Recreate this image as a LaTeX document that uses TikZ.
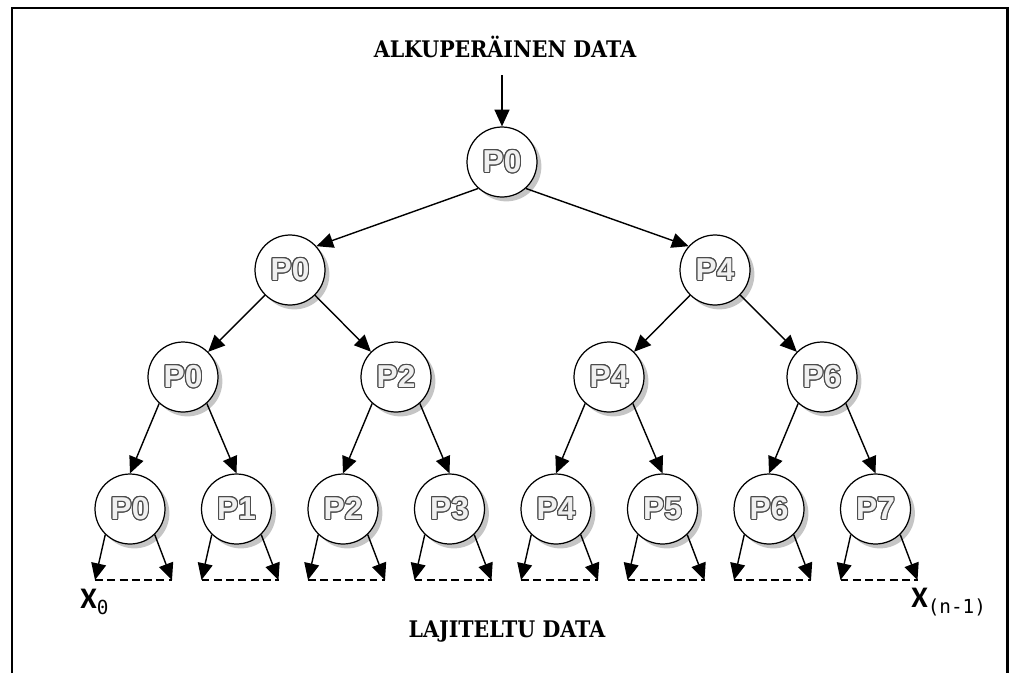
\documentclass[tikz,border=0pt]{standalone}
\usepackage{fontspec}
\usepackage{graphicx}
\usepackage{contour}
\usetikzlibrary{arrows.meta,shadows}
\newfontfamily\slabfont{DejaVu Serif}
\newfontfamily\procfont{Liberation Sans}
\newfontfamily\calfont{Carlito}
\newfontfamily\subfont{DejaVu Sans Mono}
\contourlength{0.6pt}
% hollow process label
\newcommand{\proclabel}[1]{{\color{black!6}\contour{black!70}{#1}}}
\begin{document}
\begin{tikzpicture}[x=0.02cm, y=-0.02cm, >={Triangle[length=9.5pt,width=8.5pt]},
  proc/.style={circle, draw, fill=white, line width=0.7pt, minimum size=1.4cm, inner sep=0pt,
    font=\procfont\bfseries\fontsize{18}{18}\selectfont,
    drop shadow={shadow xshift=2.5pt, shadow yshift=-2.5pt, fill=black!45}},
  edge/.style={->, line width=0.8pt},
  heading/.style={font=\slabfont\bfseries\fontsize{13}{13}\selectfont},
  idx/.style={anchor=west, inner sep=0pt, font=\calfont\bfseries\fontsize{17}{17}\selectfont},
  sortline/.style={line width=0.9pt, dash pattern=on 4.5pt off 2.5pt}]
  \useasboundingbox (0,0) rectangle (1013,673);
  % kehys
  \draw[line width=1.7pt] (12,673) -- (12,8) -- (1007,8) -- (1007,673);
  % otsikot
  \node[heading] (src) at (505,47) {\scalebox{0.9}[1]{ALKUPERÄINEN DATA}};
  \node[heading] (dst) at (507,632) {\scalebox{0.9}[1]{LAJITELTU DATA}};
  % juuri ja sisemmät tasot
  \node[proc] (r) at (502,162) {\proclabel{P0}};
  \node[proc] (a0) at (290,270) {\proclabel{P0}};
  \node[proc] (a4) at (715,270) {\proclabel{P4}};
  \foreach \i/\x in {0/183,2/396,4/609,6/822}
    \node[proc] (b\i) at (\x,377) {\proclabel{P\i}};
  % lehdet ja lajiteltu osa
  \foreach \i in {0,...,7}{
    \pgfmathsetmacro\xc{130+106.5*\i}
    \node[proc] (c\i) at (\xc,509) {\proclabel{P\i}};
    \coordinate (cl\i) at (\xc-35,580);
    \coordinate (cr\i) at (\xc+42,580);
    \draw[edge] (c\i.-134) -- (cl\i);
    \draw[edge] (c\i.-46) -- (cr\i);
    \draw[sortline] (cl\i) -- (cr\i);
  }
  % nuolet
  \coordinate (in) at (502,75);
  \draw[edge] (in) -- (r.north);
  \draw[edge] (r.-132) -- (a0.42);
  \draw[edge] (r.-48) -- (a4.138);
  \draw[edge] (a0) -- (b0);
  \draw[edge] (a0) -- (b2);
  \draw[edge] (a4) -- (b4);
  \draw[edge] (a4) -- (b6);
  \foreach \i/\j in {0/1,2/3,4/5,6/7}{
    \draw[edge] (b\i.-132) -- (c\i.north);
    \draw[edge] (b\i.-48) -- (c\j.north);
  }
  % indeksit
  \node[idx] (x0) at (80,602)
    {X\raisebox{-3pt}{\subfont\mdseries\fontsize{11}{11}\selectfont 0}};
  \node[idx] (xn) at (911,602)
    {X\raisebox{-3pt}{\subfont\mdseries\fontsize{11}{11}\selectfont (n-1)}};
\end{tikzpicture}
\end{document}
